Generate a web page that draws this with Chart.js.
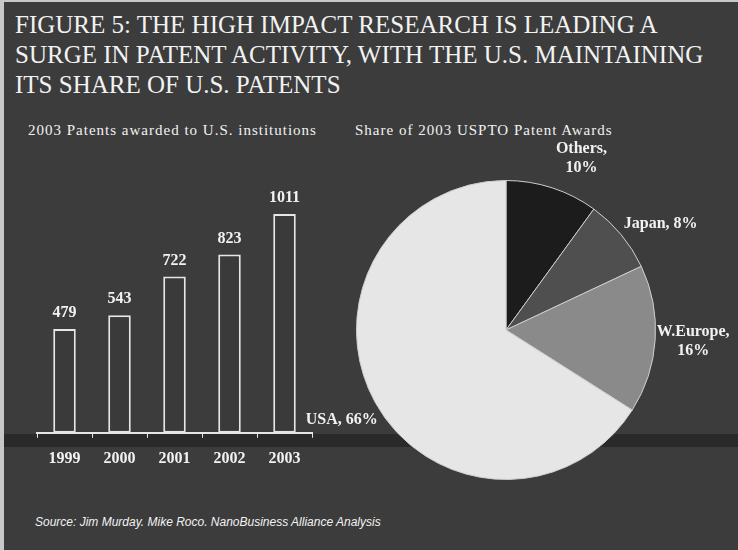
<!DOCTYPE html>
<html>
<head>
<meta charset="utf-8">
<script src="https://cdn.jsdelivr.net/npm/chart.js@4/dist/chart.umd.min.js"></script>
<style>
  html, body { margin: 0; padding: 0; }
  body { width: 738px; height: 550px; background: #3c3c3c; position: relative; overflow: hidden; font-family: 'Liberation Serif', serif; color: #f2f2f2; }
  .edgeL { position: absolute; left: 0; top: 0; width: 4px; height: 550px; background: #c8c8c8; }
  .edgeT { position: absolute; left: 0; top: 0; width: 738px; height: 2px; background: #c8c8c8; }
  .band { position: absolute; left: 4px; top: 434px; width: 734px; height: 13px; background: #2a2a2a; }
  .title { position: absolute; left: 15px; top: 10px; font-size: 25px; line-height: 30px; white-space: nowrap; }
  .sub { position: absolute; top: 121px; font-size: 15px; line-height: 18px; letter-spacing: 1px; white-space: nowrap; }
  .source { position: absolute; left: 35px; top: 515px; font-family: 'Liberation Sans', sans-serif; font-style: italic; font-size: 12px; white-space: nowrap; }
  #barChart { position: absolute; left: 0; top: 110px; }
  #pieChart { position: absolute; left: 290px; top: 110px; }
</style>
</head>
<body>
<div class="edgeL"></div>
<div class="edgeT"></div>
<div class="band"></div>
<div class="title">FIGURE 5: THE HIGH IMPACT RESEARCH IS LEADING A<br>SURGE IN PATENT ACTIVITY, WITH THE U.S. MAINTAINING<br>ITS SHARE OF U.S. PATENTS</div>
<div class="sub" style="left:28px">2003 Patents awarded to U.S. institutions</div>
<div class="sub" style="left:355px">Share of 2003 USPTO Patent Awards</div>
<div class="source">Source: Jim Murday. Mike Roco. NanoBusiness Alliance Analysis</div>
<canvas id="barChart" width="340" height="380"></canvas>
<canvas id="pieChart" width="448" height="390"></canvas>
<script>
const years = ['1999', '2000', '2001', '2002', '2003'];
const patents = [479, 543, 722, 823, 1011];

const regions = ['Others', 'Japan', 'W.Europe', 'USA'];
const shares = [10, 8, 16, 66];
const shareLabels = [['Others,', '10%'], ['Japan, 8%'], ['W.Europe,', '16%'], ['USA, 66%']];
const sliceColors = ['#1c1c1c', '#4f4f4f', '#8a8a8a', '#e6e6e6'];

const labelFont = 'bold 16px "Liberation Serif", serif';

const barValues = {
    id: 'barValues',
    afterDatasetsDraw(chart) {
        const ctx = chart.ctx;
        ctx.save();
        ctx.font = labelFont;
        ctx.fillStyle = '#f2f2f2';
        ctx.textAlign = 'center';
        ctx.textBaseline = 'middle';
        chart.getDatasetMeta(0).data.forEach((bar, i) => {
            ctx.fillText(String(patents[i]), bar.x, bar.y - 16);
        });
        ctx.restore();
    }
};

const barCtx = document.getElementById('barChart').getContext('2d');
new Chart(barCtx, {
    type: 'bar',
    data: {
        labels: years,
        datasets: [{
            data: patents,
            backgroundColor: '#3a3a3a',
            borderColor: '#e6e6e6',
            borderWidth: 2,
            borderSkipped: false,
            categoryPercentage: 1,
            barPercentage: 0.41,
        }]
    },
    options: {
        responsive: false,
        animation: false,
        layout: { padding: { left: 37, right: 28, top: 50, bottom: 11 } },
        plugins: { legend: { display: false }, tooltip: { enabled: false } },
        scales: {
            x: {
                grid: { drawOnChartArea: false, drawTicks: true, tickLength: 5, color: '#e6e6e6', offset: true },
                border: { color: '#e6e6e6', width: 2 },
                ticks: { color: '#f2f2f2', font: { family: '"Liberation Serif", serif', size: 16, weight: 'bold' }, padding: 11 }
            },
            y: { display: false, min: 0, max: 1260 }
        }
    },
    plugins: [barValues]
});

// small angular nudges (radians) so the outside labels sit where the original put them
const labelNudge = [0.1, 0.09, 0, 0];

const pieLabels = {
    id: 'pieLabels',
    afterDatasetsDraw(chart) {
        const ctx = chart.ctx;
        ctx.save();
        ctx.font = labelFont;
        ctx.fillStyle = '#f2f2f2';
        ctx.textAlign = 'center';
        ctx.textBaseline = 'middle';
        chart.getDatasetMeta(0).data.forEach((arc, i) => {
            const mid = (arc.startAngle + arc.endAngle) / 2 + labelNudge[i];
            const r = arc.outerRadius + 38;
            const x = arc.x + Math.cos(mid) * r;
            const y = arc.y + Math.sin(mid) * r;
            const lines = shareLabels[i];
            lines.forEach((t, k) => {
                ctx.fillText(t, x, y + (k - (lines.length - 1) / 2) * 19);
            });
        });
        ctx.restore();
    }
};

const pieCtx = document.getElementById('pieChart').getContext('2d');
new Chart(pieCtx, {
    type: 'pie',
    data: {
        labels: regions,
        datasets: [{
            data: shares,
            backgroundColor: sliceColors,
            borderColor: '#cfcfcf',
            borderWidth: 1,
        }]
    },
    options: {
        responsive: false,
        animation: false,
        layout: { padding: { left: 66, right: 82, top: 70, bottom: 20 } },
        plugins: { legend: { display: false }, tooltip: { enabled: false } }
    },
    plugins: [pieLabels]
});
</script>
</body>
</html>
